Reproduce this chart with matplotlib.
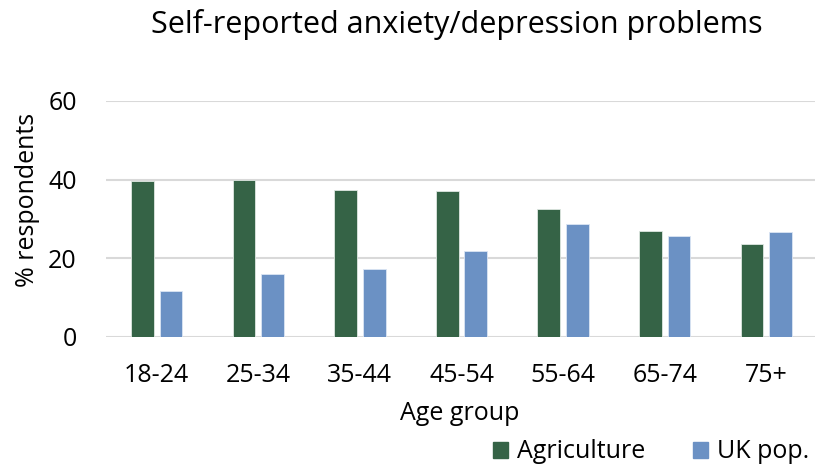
import matplotlib
matplotlib.use("Agg")
import matplotlib.pyplot as plt
import numpy as np
from matplotlib.patches import Patch

# Data
age_groups = ["18-24", "25-34", "35-44", "45-54", "55-64", "65-74", "75+"]
agriculture = [39.6, 39.8, 37.3, 37.0, 32.6, 26.9, 23.6]
uk_pop = [11.8, 16.0, 17.4, 21.9, 28.8, 25.7, 26.6]
y_ticks = [0, 20, 40, 60]

green = "#356346"
blue = "#6b91c4"
font = "Open Sans"
fs = 18

W, H = 815, 466
fig = plt.figure(figsize=(W / 100, H / 100), dpi=100)
ax = fig.add_axes([106 / W, 1 - 337 / H, 711 / W, (337 - 101) / H])

x = np.arange(len(age_groups))
bw = 0.223
off = 0.141
ax.bar(x - off, agriculture, width=bw, color=green, edgecolor="#dfe8e2",
       linewidth=0.6, zorder=3, label="Agriculture")
ax.bar(x + off, uk_pop, width=bw, color=blue, edgecolor="#dbe5f3",
       linewidth=0.6, zorder=3, label="UK pop.")

ax.set_xlim(-0.5, len(age_groups) - 0.5)
ax.set_ylim(0, 60)
ax.set_yticks(y_ticks)
ax.set_yticklabels([str(t) for t in y_ticks], fontfamily=font, fontsize=fs)
ax.set_xticks(x)
ax.set_xticklabels(age_groups, fontfamily=font, fontsize=fs)
ax.tick_params(axis="both", length=0, colors="#000000")
ax.tick_params(axis="y", pad=21)
ax.tick_params(axis="x", pad=19)

ax.grid(axis="y", color="#d9d9d9", linewidth=1.5, zorder=0)
ax.set_axisbelow(True)
for s in ax.spines.values():
    s.set_visible(False)

fig.text(457 / W, 1 - 25 / H, "Self-reported anxiety/depression problems",
         ha="center", va="center", fontfamily=font, fontsize=22)
fig.text(28 / W, 1 - 200 / H, "% respondents", rotation=90,
         ha="center", va="center", fontfamily=font, fontsize=fs)
fig.text(460 / W, 1 - 413 / H, "Age group",
         ha="center", va="center", fontfamily=font, fontsize=fs)

handles = [Patch(color=green, label="Agriculture"), Patch(color=blue, label="UK pop.")]
fig.legend(handles=handles, loc="center", bbox_to_anchor=(651 / W, 1 - 452 / H),
           ncol=2, frameon=False, prop={"family": font, "size": fs},
           handlelength=0.62, handleheight=0.62, handletextpad=0.36,
           columnspacing=1.9, borderpad=0)

fig.savefig("out.png", dpi=100)
